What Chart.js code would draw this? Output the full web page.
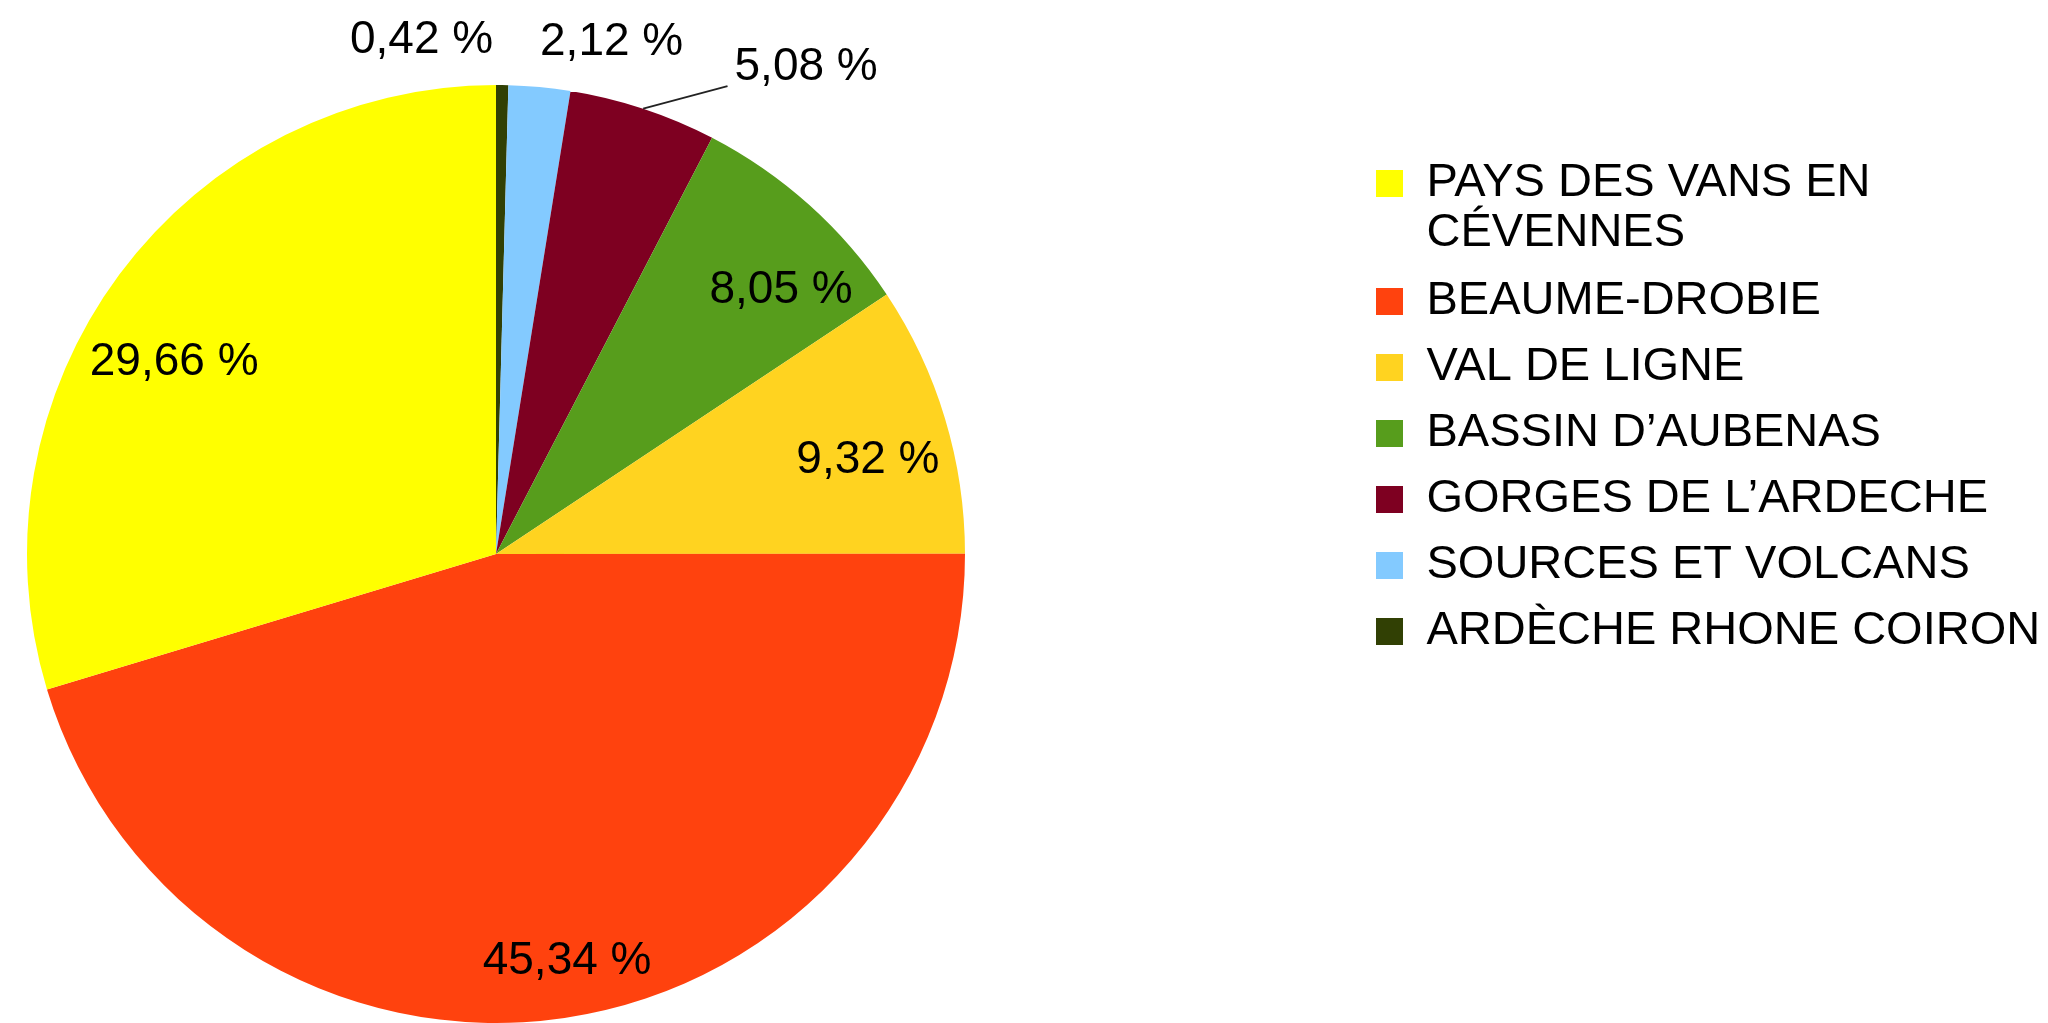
<!DOCTYPE html>
<html lang="fr">
<head>
    <meta charset="UTF-8">
    <title>Répartition par territoire</title>
    <script src="https://cdn.jsdelivr.net/npm/chart.js"></script>
    <style>
        html, body { margin: 0; padding: 0; background: #fff; }
        #wrap { width: 2048px; height: 1023px; }
    </style>
</head>
<body>
<div id="wrap">
    <canvas id="pieChart" width="2048" height="1023"></canvas>
</div>

<script>
// données dans l'ordre de tracé (sens horaire depuis midi) ; la légende les affiche à l'envers
const territoires = [
    'ARDÈCHE RHONE COIRON',
    'SOURCES ET VOLCANS',
    "GORGES DE L’ARDECHE",
    'BASSIN D’AUBENAS',
    'VAL DE LIGNE',
    'BEAUME-DROBIE',
    ['PAYS DES VANS EN', 'CÉVENNES']
];
const parts = [0.42, 2.12, 5.08, 8.05, 9.32, 45.34, 29.66];
const couleurs = ['#314004', '#83CAFF', '#7E0021', '#579D1C', '#FFD320', '#FF420E', '#FFFF00'];

// placement des étiquettes : fraction du rayon, décalage d'angle (degrés), trait de rappel
const placement = [
    { k: 1.107, da: -9.0 },
    { k: 1.119, da: 7.4 },
    { k: 1.231, da: 14.2, leader: true },
    { k: 0.828, da: 5.3 },
    { k: 0.818, da: 2.6 },
    { k: 0.881, da: -1.5 },
    { k: 0.799, da: -5.8 }
];

const FONT = '"Liberation Sans", Arial, sans-serif';
const LEGEND_LEFT = 1357;
const LEGEND_TOP = 141;

function fmt(v) {
    return v.toFixed(2).replace('.', ',') + ' %';
}

// étiquettes de pourcentage sur / autour des parts
const pctLabels = {
    id: 'pctLabels',
    afterDatasetsDraw(chart) {
        const ctx = chart.ctx;
        const meta = chart.getDatasetMeta(0);
        ctx.save();
        ctx.font = '46px ' + FONT;
        ctx.fillStyle = '#000';
        ctx.textAlign = 'center';
        ctx.textBaseline = 'middle';
        meta.data.forEach((arc, i) => {
            const p = placement[i];
            const mid = (arc.startAngle + arc.endAngle) / 2;
            const a = mid + p.da * Math.PI / 180;
            const x = arc.x + Math.cos(a) * arc.outerRadius * p.k;
            const y = arc.y + Math.sin(a) * arc.outerRadius * p.k;
            const txt = fmt(parts[i]);
            if (p.leader) {
                const w = ctx.measureText(txt).width;
                ctx.beginPath();
                ctx.moveTo(arc.x + Math.cos(mid) * arc.outerRadius,
                           arc.y + Math.sin(mid) * arc.outerRadius);
                ctx.lineTo(x - w / 2 - 7, y + 19);
                ctx.strokeStyle = '#222';
                ctx.lineWidth = 1.8;
                ctx.stroke();
            }
            ctx.fillText(txt, x, y);
        });
        ctx.restore();
    }
};

// la légende reste à droite mais on la pose où LibreOffice l'avait mise
const legendAt = {
    id: 'legendAt',
    beforeDraw(chart) {
        const lg = chart.legend;
        const h = lg.height;
        lg.left = LEGEND_LEFT;
        lg.right = chart.width;
        lg.top = LEGEND_TOP;
        lg.bottom = LEGEND_TOP + h;
    }
};

const ctx = document.getElementById('pieChart').getContext('2d');
const chart = new Chart(ctx, {
    type: 'pie',
    data: {
        labels: territoires,
        datasets: [{
            data: parts,
            backgroundColor: couleurs,
            borderWidth: 0
        }]
    },
    options: {
        responsive: false,
        animation: false,
        devicePixelRatio: 1,
        events: [],
        layout: {
            padding: { left: 27, top: 85, bottom: 0, right: 483 }
        },
        plugins: {
            tooltip: { enabled: false },
            legend: {
                position: 'right',
                align: 'start',
                reverse: true,
                maxWidth: 600,
                labels: {
                    boxWidth: 27,
                    boxHeight: 27,
                    padding: 19,
                    color: '#000',
                    font: { family: FONT, size: 47, lineHeight: 49.5 / 47 }
                }
            }
        }
    },
    plugins: [pctLabels, legendAt]
});
</script>
</body>
</html>
